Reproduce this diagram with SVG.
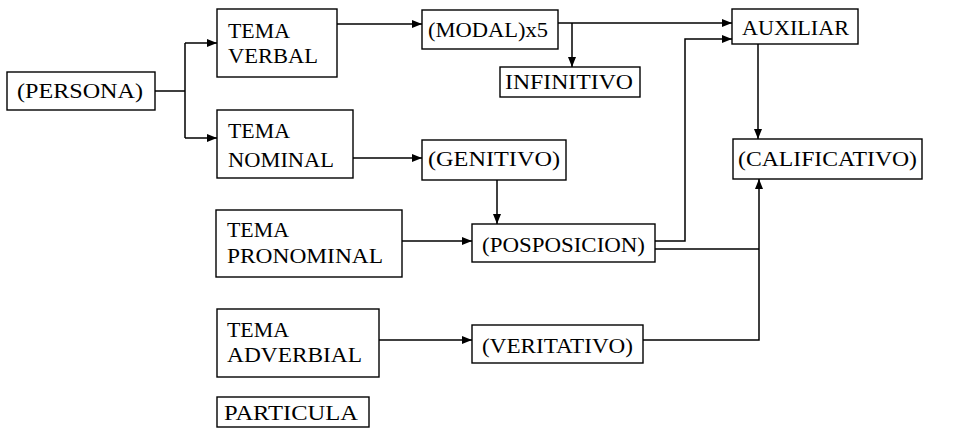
<svg xmlns="http://www.w3.org/2000/svg" width="953" height="428" viewBox="0 0 953 428">
<style>
.b{fill:#fff;stroke:#000;stroke-width:1.4}
.t{font-family:"Liberation Serif","Times New Roman",serif;font-size:20px;fill:#000}
.c{fill:none;stroke:#000;stroke-width:1.5}
</style>
<defs>
<marker id="a" viewBox="0 0 10 8" refX="10" refY="4" markerWidth="10" markerHeight="8" markerUnits="userSpaceOnUse" orient="auto">
<path d="M0,0 L10,4 L0,8 z" fill="#000"/>
</marker>
</defs>
<rect width="953" height="428" fill="#fff"/>
<g id="connectors">
<path class="c" d="M155,91 H185 M185,43 V138"/>
<path class="c" d="M185,43 H217" marker-end="url(#a)"/>
<path class="c" d="M185,138 H217" marker-end="url(#a)"/>
<path class="c" d="M337,24 H422" marker-end="url(#a)"/>
<path class="c" d="M558,23 H732" marker-end="url(#a)"/>
<path class="c" d="M572,23 V67" marker-end="url(#a)"/>
<path class="c" d="M353,158 H422" marker-end="url(#a)"/>
<path class="c" d="M497,180 V224" marker-end="url(#a)"/>
<path class="c" d="M402,241 H472" marker-end="url(#a)"/>
<path class="c" d="M655,241 H685 V39 H732" marker-end="url(#a)"/>
<path class="c" d="M655,249 H759"/>
<path class="c" d="M379,340 H472" marker-end="url(#a)"/>
<path class="c" d="M643,340 H759 V179" marker-end="url(#a)"/>
<path class="c" d="M758,44 V139" marker-end="url(#a)"/>
</g>
<g id="persona"><rect class="b" x="7" y="72" width="148" height="38"/><text class="t" x="17" y="98" textLength="126" lengthAdjust="spacingAndGlyphs">(PERSONA)</text></g>
<g id="tema-verbal"><rect class="b" x="217" y="9" width="120" height="68"/><text class="t" x="228" y="38" textLength="62" lengthAdjust="spacingAndGlyphs">TEMA</text><text class="t" x="228" y="63" textLength="90" lengthAdjust="spacingAndGlyphs">VERBAL</text></g>
<g id="tema-nominal"><rect class="b" x="217" y="110" width="136" height="68"/><text class="t" x="228" y="138" textLength="62" lengthAdjust="spacingAndGlyphs">TEMA</text><text class="t" x="228" y="167" textLength="106" lengthAdjust="spacingAndGlyphs">NOMINAL</text></g>
<g id="modal"><rect class="b" x="422" y="10" width="136" height="39"/><text class="t" x="428" y="37" textLength="120" lengthAdjust="spacingAndGlyphs">(MODAL)x5</text></g>
<g id="infinitivo"><rect class="b" x="500" y="67" width="140" height="30"/><text class="t" x="505" y="89" textLength="128" lengthAdjust="spacingAndGlyphs">INFINITIVO</text></g>
<g id="auxiliar"><rect class="b" x="732" y="9" width="126" height="35"/><text class="t" x="742" y="35" textLength="107" lengthAdjust="spacingAndGlyphs">AUXILIAR</text></g>
<g id="genitivo"><rect class="b" x="422" y="140" width="144" height="40"/><text class="t" x="428" y="166" textLength="132" lengthAdjust="spacingAndGlyphs">(GENITIVO)</text></g>
<g id="calificativo"><rect class="b" x="733" y="139" width="189" height="40"/><text class="t" x="738" y="166" textLength="179" lengthAdjust="spacingAndGlyphs">(CALIFICATIVO)</text></g>
<g id="tema-pronominal"><rect class="b" x="216" y="210" width="186" height="67"/><text class="t" x="227" y="237" textLength="62" lengthAdjust="spacingAndGlyphs">TEMA</text><text class="t" x="227" y="263" textLength="156" lengthAdjust="spacingAndGlyphs">PRONOMINAL</text></g>
<g id="posposicion"><rect class="b" x="472" y="224" width="183" height="38"/><text class="t" x="482" y="252" textLength="163" lengthAdjust="spacingAndGlyphs">(POSPOSICION)</text></g>
<g id="tema-adverbial"><rect class="b" x="217" y="309" width="162" height="68"/><text class="t" x="227" y="337" textLength="62" lengthAdjust="spacingAndGlyphs">TEMA</text><text class="t" x="227" y="362" textLength="135" lengthAdjust="spacingAndGlyphs">ADVERBIAL</text></g>
<g id="veritativo"><rect class="b" x="472" y="325" width="171" height="38"/><text class="t" x="482" y="353" textLength="151" lengthAdjust="spacingAndGlyphs">(VERITATIVO)</text></g>
<g id="particula"><rect class="b" x="217" y="397" width="152" height="30"/><text class="t" x="224" y="420" textLength="134" lengthAdjust="spacingAndGlyphs">PARTICULA</text></g>
</svg>
